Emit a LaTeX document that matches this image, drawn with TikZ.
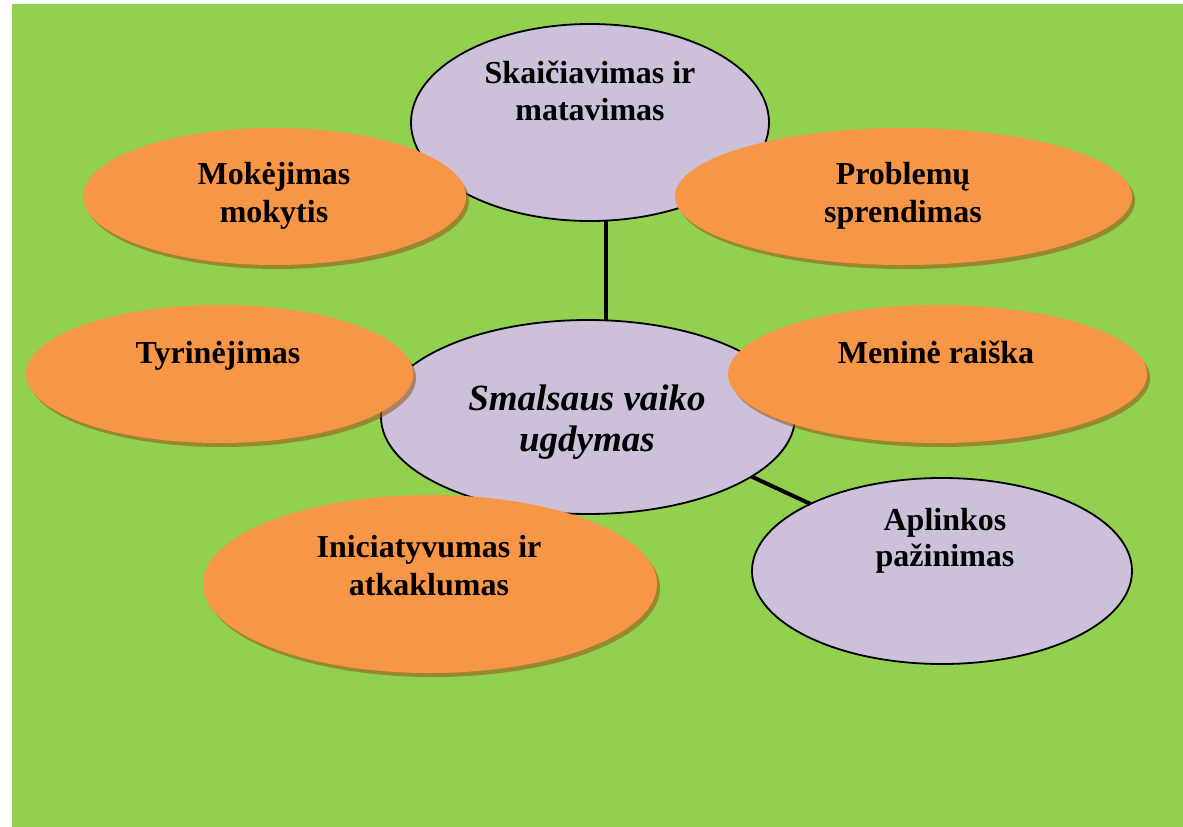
\documentclass[tikz,border=0pt]{standalone}
\usepackage{fontspec}
\setmainfont{Liberation Serif}
\usetikzlibrary{shapes.geometric,shadows}
\definecolor{bggreen}{HTML}{92D050}
\definecolor{orangefill}{HTML}{F79646}
\definecolor{lilac}{HTML}{CCC0DA}
\definecolor{shadowcol}{RGB}{153,91,27}
\begin{document}
\begin{tikzpicture}[x=1pt,y=-1pt,
  oval/.style={ellipse, inner sep=0pt, outer sep=0pt},
  lilacoval/.style={oval, fill=lilac, draw=black, line width=1.8pt},
  orangeoval/.style={oval, fill=orangefill, draw=none,
    drop shadow={shadow xshift=3pt, shadow yshift=-4pt, fill=shadowcol, opacity=0.6}},
  lbl/.style={anchor=base, inner sep=0pt, font=\fontsize{32}{37}\selectfont\bfseries},
  ctrlbl/.style={anchor=base, inner sep=0pt, font=\fontsize{37}{42}\selectfont\bfseries\itshape},
  link/.style={line width=4pt, draw=black}]
\useasboundingbox (0,0) rectangle (1183,827);
\fill[bggreen] (12,4) rectangle (1183,827);

% lilac ovals
\node[lilacoval, minimum width=358pt, minimum height=197pt] (skai) at (590,122.5) {};
\node[lilacoval, minimum width=414pt, minimum height=194pt] (ctr) at (588,417) {};
\node[lilacoval, minimum width=380pt, minimum height=186pt] (apl) at (942,571) {};

% connectors
\draw[link] (skai.south -| 606,0) -- (ctr.north -| 606,0);
\draw[link] (ctr.-20) -- (apl.153);

% orange ovals
\node[orangeoval, minimum width=383pt, minimum height=137pt] (mok) at (274.5,196.5) {};
\node[orangeoval, minimum width=457pt, minimum height=137pt] (prob) at (903.5,196.5) {};
\node[orangeoval, minimum width=387pt, minimum height=138pt] (tyr) at (219.5,374) {};
\node[orangeoval, minimum width=419pt, minimum height=138pt] (men) at (937.5,374) {};
\node[orangeoval, minimum width=454pt, minimum height=178pt] (ini) at (430,584) {};

% texts
\node[lbl] (skaiA) at (590,83) {Skaičiavimas ir};
\node[lbl] (skaiB) at (590,120) {matavimas};
\node[ctrlbl] (ctrA) at (587,410) {Smalsaus vaiko};
\node[ctrlbl] (ctrB) at (587,451) {ugdymas};
\node[lbl] (aplA) at (945,530) {Aplinkos};
\node[lbl] (aplB) at (945,566) {pažinimas};
\node[lbl] (mokA) at (274,184) {Mokėjimas};
\node[lbl] (mokB) at (274,222) {mokytis};
\node[lbl] (probA) at (903,184) {Problemų};
\node[lbl] (probB) at (903,222) {sprendimas};
\node[lbl] (tyrA) at (218,363) {Tyrinėjimas};
\node[lbl] (menA) at (936,363) {Meninė raiška};
\node[lbl] (iniA) at (429,557) {Iniciatyvumas ir};
\node[lbl] (iniB) at (429,595) {atkaklumas};
\end{tikzpicture}
\end{document}
